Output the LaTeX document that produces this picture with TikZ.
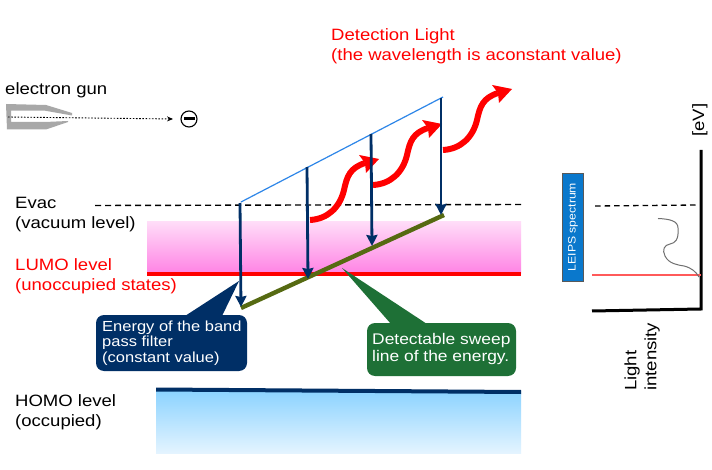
\documentclass[tikz,border=0pt]{standalone}
\usepackage{fontspec}
\setmainfont[FakeStretch=1.13]{Liberation Sans}
\usetikzlibrary{arrows.meta,shadings}
\definecolor{navy}{HTML}{002F66}
\definecolor{dkgreen}{HTML}{1E7036}
\definecolor{olive2}{HTML}{566A12}
\definecolor{skyb}{HTML}{2E86E8}
\definecolor{boxblue}{HTML}{0A78CC}
\definecolor{gungrey}{HTML}{A8A8A8}
\definecolor{thinred}{HTML}{FF5A5A}
\definecolor{curvegrey}{HTML}{707070}
\definecolor{pinktop}{HTML}{FFDCF8}
\definecolor{pinkbot}{HTML}{FF82E4}
\definecolor{bluetop}{HTML}{8CD3FF}
\definecolor{bluebot}{HTML}{E4F4FF}
\tikzset{
 lbl/.style={anchor=west,inner sep=0pt,align=left,font=\fontsize{16.4}{20}\selectfont},
 lblred/.style={lbl,text=red},
 drop/.style={draw=navy,line width=2.8pt,-{Stealth[length=11pt,width=11pt,inset=1pt]}},
 wavy/.style={draw=red,line width=6pt,line cap=butt},
 wavyhead/.style={fill=red,draw=none},
 axisl/.style={draw=black,line width=3pt},
}
\newcommand{\redwave}[2]{%
\begin{scope}[shift={(#1,#2)}]
\path[wavy] (310,220) .. controls (328,219) and (340,207) .. (344,190)
 .. controls (347,176) and (350,168) .. (365,163);
\fill[wavyhead] (379,159) -- (359,155) -- (365,163) -- (366,173) -- cycle;
\end{scope}}
\begin{document}
\begin{tikzpicture}[x=1pt,y=-1pt]
\useasboundingbox (0,0) rectangle (712,470);
\fill[white] (0,0) rectangle (712,470);
% bands
\shade[top color=pinktop,bottom color=pinkbot] (147,222) rectangle (521,274);
\draw[red,line width=4.4pt] (147,274) -- (521,274);
\shade[top color=bluetop,bottom color=bluebot] (156,391) rectangle (521,453);
\fill[navy] (156,387.5) -- (521,390) -- (521,394) -- (156,391.5) -- cycle;
% dashed vacuum level
\coordinate (vacL) at (95,205.5);
\coordinate (vacR) at (521,204.5);
\draw[black,line width=1.4pt,dash pattern=on 6pt off 4pt] (vacL) -- (vacR);
% sweep lines
\coordinate (b1) at (241,202);
\coordinate (b4) at (443,97);
\draw[skyb,line width=1.2pt] (b1) -- (b4);
\coordinate (g1) at (241,308);
\coordinate (g4) at (444,215);
% red waves
\redwave{0}{0}
\redwave{63}{-35}
\redwave{133}{-70}
% callout tails
\coordinate (nt) at (239,281);
\coordinate (gt) at (342,268);
\fill[navy] (nt) -- (185,316) -- (222,316) -- cycle;
\fill[dkgreen] (gt) -- (391,324) -- (427,324) -- cycle;
% arrows
\coordinate (a1s) at (240,203);
\coordinate (a1e) at (241,307);
\coordinate (a2s) at (307,167);
\coordinate (a2e) at (308,279);
\coordinate (a3s) at (371,134);
\coordinate (a3e) at (372,246);
\coordinate (a4s) at (441,98);
\coordinate (a4e) at (441,215);
\draw[olive2,line width=4.4pt] (g1) -- (g4);
\draw[drop] (a1s) -- (a1e);
\draw[drop] (a2s) -- (a2e);
\draw[drop] (a3s) -- (a3e);
\draw[drop] (a4s) -- (a4e);
% callouts
\fill[navy,rounded corners=8pt] (96,315) rectangle (247,371);
\fill[dkgreen,rounded corners=8pt] (367,323) rectangle (516,376);
\node[lbl,text=white,font=\fontsize{14.6}{15.3}\selectfont] (ntext) at (102,343) {Energy of the band\\pass filter\\(constant value)};
\node[lbl,text=white,font=\fontsize{15.4}{17}\selectfont] (gtext) at (372,349.5) {Detectable sweep\\line of the energy.};
% left labels
\node[lbl] (gun) at (5,90.5) {electron gun};
\node[lbl] (evac) at (15,214.5) {Evac\\(vacuum level)};
\node[lblred] (lumo) at (15,276) {LUMO level\\(unoccupied states)};
\node[lbl] (homo) at (15,412.7) {HOMO level\\(occupied)};
\node[lblred] (det) at (331,46.5) {Detection Light\\(the wavelength is aconstant value)};
% gun
\fill[gungrey] (6,104) -- (46,105) -- (72,113) -- (72,115.5) -- (45,110.7) -- (11,110.7) -- (11,122) -- (45,122) -- (68,121) -- (68,122) -- (46,129.5) -- (7,129.5) -- cycle;
\node[circle,draw=black,line width=1.1pt,minimum size=16pt,inner sep=0pt] (elec) at (189,119) {};
\fill[black] (183.5,117.5) rectangle (194.5,120.5);
\coordinate (gunc) at (8,117);
\draw[black,line width=.9pt,dash pattern=on 1.6pt off 1.6pt,-{Stealth[length=6pt,width=5pt]}] (gunc) -- (173,119);
% right graph
\coordinate (ax1) at (701,150);
\coordinate (ax2) at (701,309);
\coordinate (ax3) at (592,311);
\draw[axisl,line join=miter] (ax1) -- (ax2) -- (ax3);
\coordinate (rvL) at (595,206);
\coordinate (rvR) at (697,205);
\draw[black,line width=1.3pt,dash pattern=on 5.5pt off 4pt] (rvL) -- (rvR);
\coordinate (rrL) at (592,275);
\coordinate (rrR) at (701,275);
\draw[thinred,line width=1.2pt] (rrL) -- (rrR);
\draw[curvegrey,line width=1pt] (658,218.5) .. controls (670,219) and (678,221) .. (678,228)
 .. controls (679,240) and (675,243) .. (670,244)
 .. controls (664,245) and (662,250) .. (665,256)
 .. controls (669,264) and (678,265) .. (684,266)
 .. controls (692,268) and (696,272) .. (699,277);
\node[draw=gray!70!black,line width=.6pt,fill=boxblue,minimum width=108pt,minimum height=21pt,inner sep=0pt,rotate=90,text=white,font=\fontsize{10.8}{12}\selectfont] (leips) at (573,227) {LEIPS spectrum};
\node[rotate=90,inner sep=0pt,font=\fontsize{16.4}{20}\selectfont] (ev) at (700,120) {[eV]};
\node[rotate=90,anchor=south west,inner sep=0pt,align=left,font=\fontsize{16.4}{20}\selectfont] (li) at (660,391) {Light\\intensity};
\end{tikzpicture}
\end{document}
